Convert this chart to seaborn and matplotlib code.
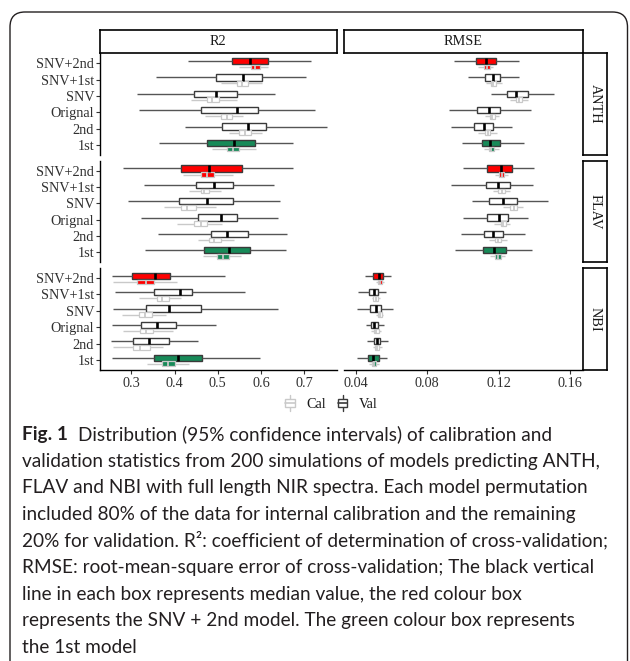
import numpy as np
import pandas as pd
import seaborn as sns
import matplotlib
matplotlib.use("Agg")
import matplotlib.pyplot as plt
from matplotlib.patches import Rectangle, FancyBboxPatch, Patch
from matplotlib.lines import Line2D
from matplotlib.legend_handler import HandlerBase

# ---------------- data ----------------
models = ["SNV+2nd", "SNV+1st", "SNV", "Orignal", "2nd", "1st"]
traits = ["ANTH", "FLAV", "NBI"]
metrics = ["R2", "RMSE"]
sets = ["Val", "Cal"]

# five-number summaries per model: (lower whisker, Q1, median, Q3, upper whisker)
anth_r2_val = [(0.432, 0.532, 0.575, 0.617, 0.716), (0.357, 0.495, 0.559, 0.603, 0.705),
               (0.314, 0.446, 0.496, 0.545, 0.632), (0.318, 0.460, 0.544, 0.593, 0.724),
               (0.423, 0.510, 0.569, 0.612, 0.752), (0.365, 0.474, 0.537, 0.585, 0.673)]
anth_r2_cal = [(0.549, 0.576, 0.587, 0.598, 0.617), (0.507, 0.544, 0.557, 0.569, 0.603),
               (0.437, 0.474, 0.487, 0.503, 0.544), (0.470, 0.507, 0.521, 0.534, 0.559),
               (0.527, 0.548, 0.562, 0.577, 0.602), (0.486, 0.521, 0.535, 0.548, 0.588)]
flav_r2_val = [(0.281, 0.415, 0.480, 0.555, 0.675), (0.329, 0.449, 0.492, 0.535, 0.630),
               (0.291, 0.411, 0.476, 0.535, 0.644), (0.322, 0.455, 0.507, 0.545, 0.640),
               (0.361, 0.484, 0.522, 0.569, 0.660), (0.332, 0.469, 0.527, 0.575, 0.658)]
flav_r2_cal = [(0.420, 0.461, 0.476, 0.491, 0.536), (0.434, 0.461, 0.469, 0.480, 0.507),
               (0.376, 0.414, 0.428, 0.449, 0.496), (0.406, 0.446, 0.461, 0.476, 0.510),
               (0.455, 0.480, 0.491, 0.507, 0.538), (0.465, 0.498, 0.511, 0.525, 0.554)]
nbi_r2_val = [(0.254, 0.302, 0.354, 0.389, 0.516), (0.261, 0.352, 0.413, 0.441, 0.563),
              (0.258, 0.334, 0.388, 0.460, 0.640), (0.254, 0.323, 0.359, 0.404, 0.496),
              (0.253, 0.304, 0.340, 0.386, 0.454), (0.256, 0.352, 0.407, 0.463, 0.598)]
nbi_r2_cal = [(0.257, 0.314, 0.333, 0.352, 0.405), (0.318, 0.359, 0.370, 0.387, 0.415),
              (0.279, 0.318, 0.332, 0.347, 0.379), (0.281, 0.320, 0.333, 0.351, 0.396),
              (0.258, 0.304, 0.320, 0.343, 0.373), (0.335, 0.370, 0.384, 0.401, 0.434)]

anth_rmse_val = [(0.0950, 0.1072, 0.1128, 0.1184, 0.1315), (0.1031, 0.1124, 0.1171, 0.1210, 0.1315),
                 (0.1156, 0.1248, 0.1296, 0.1366, 0.1511), (0.0924, 0.1081, 0.1148, 0.1208, 0.1382),
                 (0.0934, 0.1063, 0.1120, 0.1167, 0.1274), (0.0997, 0.1106, 0.1154, 0.1208, 0.1345)]
anth_rmse_cal = [(0.1087, 0.1120, 0.1135, 0.1152, 0.1171), (0.1130, 0.1156, 0.1171, 0.1186, 0.1218),
                 (0.1261, 0.1300, 0.1315, 0.1330, 0.1362), (0.1124, 0.1152, 0.1165, 0.1180, 0.1204),
                 (0.1087, 0.1124, 0.1139, 0.1152, 0.1193), (0.1119, 0.1147, 0.1160, 0.1175, 0.1201)]
flav_rmse_val = [(0.0999, 0.1134, 0.1214, 0.1274, 0.1399), (0.0934, 0.1128, 0.1199, 0.1265, 0.1395),
                 (0.1050, 0.1148, 0.1227, 0.1302, 0.1479), (0.1003, 0.1134, 0.1204, 0.1255, 0.1364),
                 (0.0990, 0.1119, 0.1171, 0.1227, 0.1349), (0.0956, 0.1115, 0.1176, 0.1242, 0.1386)]
flav_rmse_cal = [(0.1180, 0.1204, 0.1218, 0.1231, 0.1255), (0.1171, 0.1199, 0.1218, 0.1236, 0.1265),
                 (0.1227, 0.1265, 0.1287, 0.1305, 0.1339), (0.1175, 0.1212, 0.1227, 0.1242, 0.1261),
                 (0.1148, 0.1182, 0.1199, 0.1216, 0.1246), (0.1152, 0.1180, 0.1196, 0.1212, 0.1238)]
nbi_rmse_val = [(0.0451, 0.0498, 0.0530, 0.0554, 0.0597), (0.0413, 0.0475, 0.0502, 0.0522, 0.0569),
                (0.0404, 0.0479, 0.0511, 0.0541, 0.0610), (0.0455, 0.0483, 0.0503, 0.0526, 0.0559),
                (0.0464, 0.0503, 0.0517, 0.0537, 0.0578), (0.0404, 0.0466, 0.0498, 0.0531, 0.0576)]
nbi_rmse_cal = [(0.0513, 0.0522, 0.0534, 0.0545, 0.0555), (0.0489, 0.0498, 0.0511, 0.0526, 0.0535),
                (0.0513, 0.0522, 0.0535, 0.0546, 0.0554), (0.0485, 0.0502, 0.0514, 0.0528, 0.0541),
                (0.0493, 0.0505, 0.0518, 0.0531, 0.0546), (0.0473, 0.0489, 0.0500, 0.0513, 0.0530)]

r2_ticks = [0.3, 0.4, 0.5, 0.6, 0.7]
r2_tick_labels = ["0.3", "0.4", "0.5", "0.6", "0.7"]
rmse_ticks = [0.04, 0.08, 0.12, 0.16]
rmse_tick_labels = ["0.04", "0.08", "0.12", "0.16"]

caption_title = "Fig. 1"
caption_lines = [
    "Distribution (95% confidence intervals) of calibration and",
    "validation statistics from 200 simulations of models predicting ANTH,",
    "FLAV and NBI with full length NIR spectra. Each model permutation",
    "included 80% of the data for internal calibration and the remaining",
    "20% for validation. R\u00b2: coefficient of determination of cross-validation;",
    "RMSE: root-mean-square error of cross-validation; The black vertical",
    "line in each box represents median value, the red colour box",
    "represents the SNV + 2nd model. The green colour box represents",
    "the 1st model",
]

summaries = {
    ("ANTH", "R2", "Val"): anth_r2_val, ("ANTH", "R2", "Cal"): anth_r2_cal,
    ("FLAV", "R2", "Val"): flav_r2_val, ("FLAV", "R2", "Cal"): flav_r2_cal,
    ("NBI", "R2", "Val"): nbi_r2_val, ("NBI", "R2", "Cal"): nbi_r2_cal,
    ("ANTH", "RMSE", "Val"): anth_rmse_val, ("ANTH", "RMSE", "Cal"): anth_rmse_cal,
    ("FLAV", "RMSE", "Val"): flav_rmse_val, ("FLAV", "RMSE", "Cal"): flav_rmse_cal,
    ("NBI", "RMSE", "Val"): nbi_rmse_val, ("NBI", "RMSE", "Cal"): nbi_rmse_cal,
}

rows = []
for (trait, metric, s), stats in summaries.items():
    for m, five in zip(models, stats):
        for v in five:
            rows.append(dict(trait=trait, metric=metric, set=s, model=m, value=v))
df = pd.DataFrame(rows)

# ---------------- styling ----------------
W, H = 630, 661
sns.set_style("white")
plt.rcParams["font.family"] = ["Liberation Serif", "DejaVu Serif"]

fig = plt.figure(figsize=(W / 100, H / 100), dpi=100)

set_offset = {"Val": -0.134, "Cal": 0.238}
set_width = {"Val": 0.385, "Cal": 0.29}
fill_pal = {m: "white" for m in models}
fill_pal["SNV+2nd"] = "#ff0000"
fill_pal["1st"] = "#178a58"
val_line = "#3a3a3a"
cal_line = "#c9c9c9"

df["idx"] = df["model"].map({m: i for i, m in enumerate(models)})
df["pos"] = df["idx"] + df["set"].map(set_offset)

col_x = {"R2": (100, 336.6), "RMSE": (344, 582.8)}
row_top = {"ANTH": 53.4, "FLAV": 160.8, "NBI": 268.2}
panel_h = 101.5
xlims = {"R2": (0.2273, 0.775), "RMSE": (0.0333, 0.1672)}
ticks = {"R2": (r2_ticks, r2_tick_labels), "RMSE": (rmse_ticks, rmse_tick_labels)}
txt_col = "#303030"
fs = 10.3


def fig_rect(x0, x1, top, h):
    return [x0 / W, 1 - (top + h) / H, (x1 - x0) / W, h / H]


for trait in traits:
    for metric in metrics:
        x0, x1 = col_x[metric]
        ax = fig.add_axes(fig_rect(x0, x1, row_top[trait], panel_h))
        for s in sets:
            sub = df[(df.trait == trait) & (df.metric == metric) & (df.set == s)]
            lc = val_line if s == "Val" else cal_line
            sns.boxplot(
                data=sub, x="value", y="pos", hue="model", hue_order=models,
                palette=fill_pal, orient="y", native_scale=True, dodge=False,
                width=set_width[s], whis=(0, 100), showcaps=False, fliersize=0,
                saturation=1, linecolor=lc, linewidth=1.0 if s == "Val" else 0.9,
                legend=False, ax=ax,
                medianprops=dict(color="black" if s == "Val" else cal_line,
                                 linewidth=1.9 if s == "Val" else 1.3),
                whiskerprops=dict(color=lc if s == "Cal" else "#555555", linewidth=1.0),
            )
        ax.set_xlim(*xlims[metric])
        ax.set_ylim(len(models) - 1 + 0.6, -0.6)
        ax.set_xlabel("")
        ax.set_ylabel("")
        ax.set_facecolor("none")
        for sp in ["top", "right"]:
            ax.spines[sp].set_visible(False)
        # left axis only for first column
        if metric == "R2":
            ax.set_yticks(range(len(models)))
            ax.set_yticklabels(models)
            ax.spines["left"].set_color("black")
            ax.spines["left"].set_linewidth(1.0)
            ax.tick_params(axis="y", length=2.7, width=0.8, color="#333333",
                           labelsize=fs, labelcolor=txt_col, pad=1.5, left=True)
        else:
            ax.spines["left"].set_visible(False)
            ax.set_yticks([])
        if trait == "NBI":
            tv, tl = ticks[metric]
            ax.set_xticks(tv)
            ax.set_xticklabels(tl)
            ax.spines["bottom"].set_color("black")
            ax.spines["bottom"].set_linewidth(1.0)
            ax.tick_params(axis="x", length=2.7, width=0.8, color="#333333",
                           labelsize=fs, labelcolor=txt_col, pad=2.5, bottom=True)
        else:
            ax.spines["bottom"].set_visible(False)
            ax.set_xticks([])

# top strips
for metric in metrics:
    x0, x1 = col_x[metric]
    sax = fig.add_axes(fig_rect(x0, x1, 29.6, 23.4))
    sax.set_xticks([]); sax.set_yticks([])
    sax.set_facecolor("white")
    for sp in sax.spines.values():
        sp.set_linewidth(1.2); sp.set_color("black")
    sax.text(0.5, 0.5, metric, transform=sax.transAxes, ha="center", va="center",
             fontsize=fs, color="#1a1a1a")

# right strips
for trait in traits:
    sax = fig.add_axes(fig_rect(583.3, 606.5, row_top[trait], panel_h))
    sax.set_xticks([]); sax.set_yticks([])
    sax.set_facecolor("white")
    for sp in sax.spines.values():
        sp.set_linewidth(1.2); sp.set_color("black")
    sax.text(0.5, 0.5, trait, transform=sax.transAxes, ha="center", va="center",
             rotation=-90, fontsize=fs, color="#1a1a1a")


# legend with boxplot glyphs
class BoxGlyph(HandlerBase):
    def create_artists(self, legend, orig_handle, xdescent, ydescent, width, height,
                       fontsize, trans):
        c = orig_handle.get_edgecolor()
        cx = -xdescent + width / 2
        y0 = -ydescent
        bw = width * 0.85
        arts = [
            Line2D([cx, cx], [y0 - height * 0.15, y0 + height * 0.2], color=c, lw=1.0, transform=trans),
            Line2D([cx, cx], [y0 + height * 0.8, y0 + height * 1.15], color=c, lw=1.0, transform=trans),
            Rectangle((cx - bw / 2, y0 + height * 0.2), bw, height * 0.6, facecolor="white",
                      edgecolor=c, lw=1.0, transform=trans),
            Line2D([cx - bw / 2, cx + bw / 2], [y0 + height * 0.5] * 2, color=c, lw=1.2, transform=trans),
        ]
        return arts


handles = [Patch(facecolor="white", edgecolor=cal_line), Patch(facecolor="white", edgecolor=val_line)]
fig.legend(handles, ["Cal", "Val"], handler_map={Patch: BoxGlyph()}, loc="center",
           bbox_to_anchor=(331 / W, 1 - 404 / H), ncol=2, frameon=False,
           prop={"family": ["Liberation Serif"], "size": fs}, handlelength=0.75,
           handleheight=0.95, handletextpad=0.75, columnspacing=0.8, labelcolor="#1a1a1a")

# outer rounded frame
frame = FancyBboxPatch((0.10, -0.5), 6.175, 6.49 + 0.5, boxstyle="round,pad=0,rounding_size=0.15",
                       transform=fig.dpi_scale_trans, facecolor="none", edgecolor="#231f20",
                       lw=1.0, clip_on=False)
fig.patches.append(frame)

# caption
cap_family = ["Lato", "DejaVu Sans"]
cap_color = "#231f20"
fig.canvas.draw()
rend = fig.canvas.get_renderer()
probe = fig.text(0, 0, caption_lines[1], fontsize=14, family=cap_family)
wprobe = probe.get_window_extent(rend).width
probe.remove()
cap_fs = 14 * 581 / wprobe

left = 22
base0 = 440
lead = 26.6
t = fig.text(left / W, 1 - base0 / H, caption_title, fontsize=cap_fs, family=cap_family,
             weight="bold", color=cap_color, va="baseline", ha="left")
tw = t.get_window_extent(rend).width
for i, line in enumerate(caption_lines):
    x = left + (tw + 0.55 * cap_fs * 100 / 72 if i == 0 else 0)
    fig.text(x / W, 1 - (base0 + i * lead) / H, line, fontsize=cap_fs, family=cap_family,
             color=cap_color, va="baseline", ha="left")

fig.savefig("out.png", dpi=100, facecolor="white")
